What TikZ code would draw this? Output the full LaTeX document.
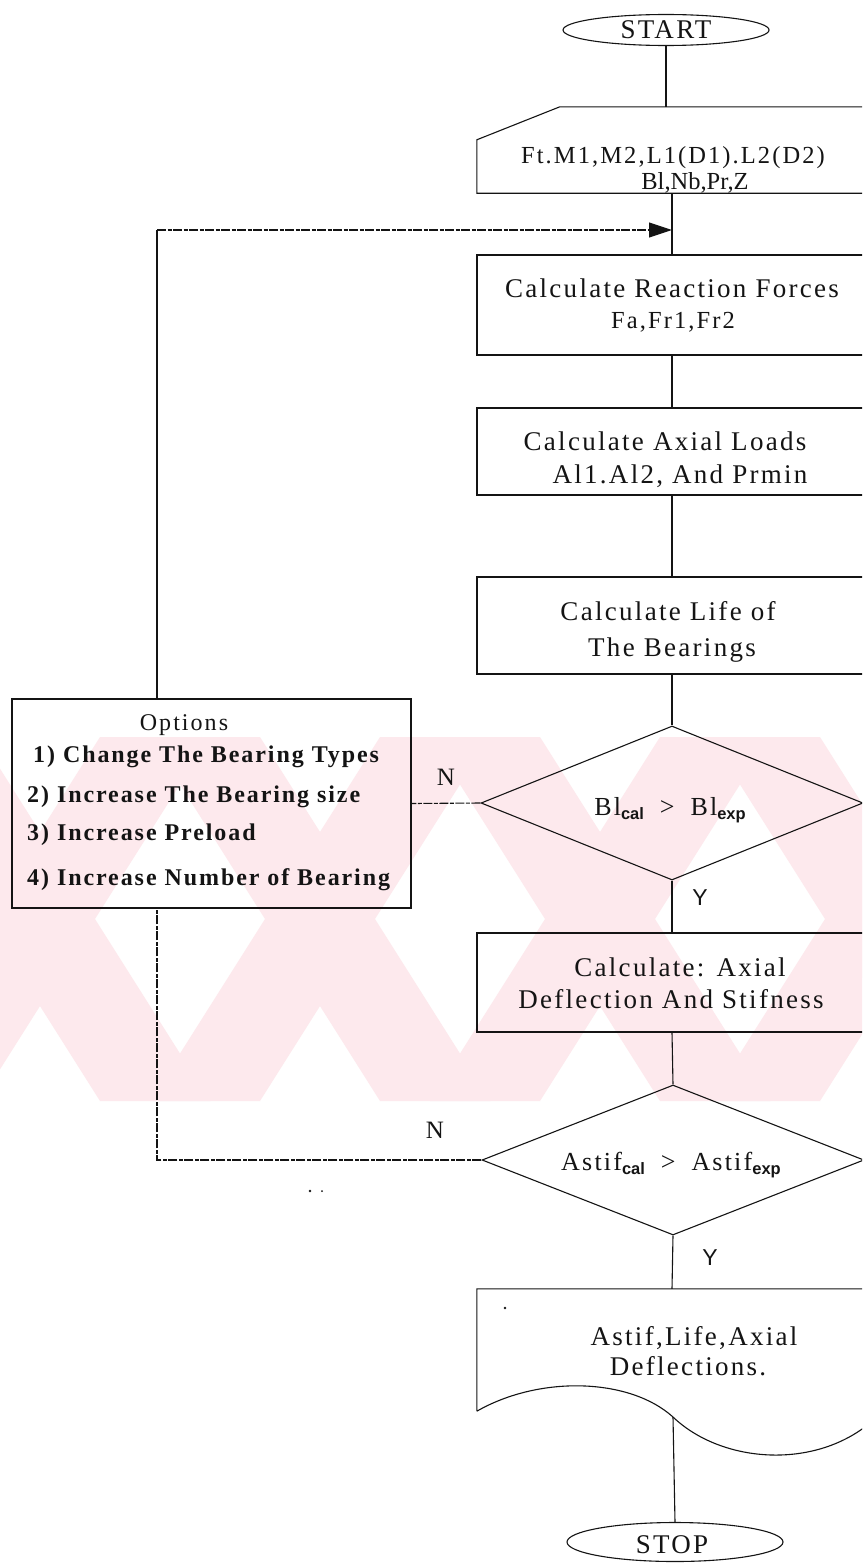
\documentclass[tikz,border=0pt]{standalone}
\usepackage{fontspec}
\setmainfont{Liberation Serif}
\newfontfamily\spc[LetterSpace=8.5]{Liberation Serif}
\newfontfamily\spcb[LetterSpace=8]{Liberation Serif}
\newfontfamily\sansf{Liberation Sans}
\usetikzlibrary{shapes.geometric,arrows.meta,calc}
\definecolor{wm}{RGB}{253,233,237}
\definecolor{ink}{RGB}{20,20,20}

% one pink diagonal band of the background emblem: top-left x, width, horizontal run
\newcommand{\wmstripe}[3]{%
  \fill[wm] (#1,737) -- ({#1+#2},737) -- ({#1+#2+#3},1101) -- ({#1+#3},1101) -- cycle;}
% subscript set in the sans face
\newcommand{\sub}[1]{{\sansf\bfseries\fontsize{16.5}{16.5}\selectfont\raisebox{-4.5pt}{#1}}}

\begin{document}
\begin{tikzpicture}[x=1pt,y=-1pt,
  ln/.style={line width=1.1pt,draw=ink},
  scan/.style={ln,dash pattern=on 9pt off 1.5pt on 4pt off 1.5pt},
  blk/.style={rectangle,minimum width=390pt,inner sep=0pt},
  txt/.style={font=\spc\fontsize{27}{32}\selectfont,inner sep=0pt,anchor=base,text=ink},
  opt/.style={font=\spcb\bfseries\fontsize{24}{26}\selectfont,inner sep=0pt,anchor=base west,text=ink},
  lbl/.style={font=\fontsize{25}{25}\selectfont,inner sep=0pt,anchor=base,text=ink},
  ylbl/.style={font=\sansf\fontsize{23}{23}\selectfont,inner sep=0pt,anchor=base,text=ink},
  term/.style={ellipse,ln,inner sep=0pt},
  dec/.style={diamond,ln,inner sep=0pt,minimum width=382pt,minimum height=154pt},
  tip/.style={-{Triangle[length=23pt,width=15pt]}}]

\useasboundingbox (0,0) rectangle (862,1563);
\fill[white] (0,0) rectangle (862,1563);
\clip (0,0) rectangle (862,1563);

% background emblem band
\begin{scope}
  \clip (0,737) rectangle (862,1101);
  \foreach \c in {40,320,600,880}{
    \wmstripe{\c-170}{110}{230}
    \wmstripe{\c+60}{110}{-230}
  }
\end{scope}

% terminals
\node[term,minimum width=206pt,minimum height=31pt] (start) at (666,30) {};
\node[txt,font=\spc\fontsize{27}{27}\selectfont] (starttext) at (666,39) {START};
\node[term,minimum width=216pt,minimum height=39pt] (stop) at (675,1542) {};
\node[txt,font=\spc\fontsize{27}{27}\selectfont] (stoptext) at (672,1553) {STOP};

% input card with its clipped corner
\node[blk,minimum height=86pt] (input) at (672,150) {};
\draw[ln] ($(input.north west)+(83,0)$) -- (input.north east) -- (input.south east)
  -- (input.south west) -- ($(input.north west)+(0,33)$) -- cycle;
\node[txt,font=\spc\fontsize{24.5}{27}\selectfont] (in1) at (673,163) {Ft.M1,M2,L1(D1).L2(D2)};
\node[txt,font=\rmfamily\fontsize{24.5}{27}\selectfont] (in2) at (695,189) {Bl,Nb,Pr,Z};

% process boxes
\node[blk,ln,minimum height=100pt] (react) at (672,305) {};
\node[txt] (re1) at (672,297) {Calculate Reaction Forces};
\node[txt,font=\spc\fontsize{24.5}{30}\selectfont] (re2) at (673,328) {Fa,Fr1,Fr2};
\node[blk,ln,minimum height=87pt] (axial) at (672,451.5) {};
\node[txt] (ax1) at (665,450) {Calculate Axial Loads};
\node[txt] (ax2) at (680,483) {Al1.Al2, And Prmin};
\node[blk,ln,minimum height=97pt] (life) at (672,625.5) {};
\node[txt] (li1) at (668,620) {Calculate Life of};
\node[txt] (li2) at (672,656) {The Bearings};
\node[blk,ln,minimum height=99pt] (defl) at (672,982.5) {};
\node[txt] (de1) at (680,976) {Calculate: Axial};
\node[txt] (de2) at (671,1008) {Deflection And Stifness};

% decisions
\node[dec] (d1) at (672,803) {};
\node[txt,font=\spc\fontsize{26}{26}\selectfont] (d1text) at (670,815) {Bl\sub{cal} \;>\; Bl\sub{exp}};
\node[dec,minimum height=150pt] (d2) at (673,1160) {};
\node[txt,font=\spc\fontsize{26}{26}\selectfont] (d2text) at (671,1170) {Astif\sub{cal} \;>\; Astif\sub{exp}};

% output document
\node[blk,minimum height=122pt] (out) at (672,1350) {};
\coordinate (wave) at (673,1417);
\draw[ln] (out.south west) -- (out.north west) -- (out.north east)
  -- ($(out.south east)+(0,14)$)
  .. controls (810,1470) and (720,1462) .. (wave)
  .. controls (630,1378) and (540,1375) .. (out.south west);
\node[txt] (ou1) at (694,1345) {Astif,Life,Axial};
\node[txt] (ou2) at (688,1375) {Deflections.};

% options box
\node[rectangle,ln,minimum width=399pt,minimum height=209pt,inner sep=0pt] (options) at (211.5,803.5) {};
\node[txt,font=\spc\fontsize{24}{24}\selectfont] (opt0) at (184,730) {Options};
\node[opt] (opt1) at (33,762) {1) Change The Bearing Types};
\node[opt] (opt2) at (27,802) {2) Increase The Bearing size};
\node[opt] (opt3) at (27,840) {3) Increase Preload};
\node[opt] (opt4) at (27,885) {4) Increase Number of Bearing};

% main flow
\draw[ln] (start.south) -- (start.south |- input.north);
\draw[ln] (input.south) -- (react.north);
\draw[ln] (react.south) -- (axial.north);
\draw[ln] (axial.south) -- (life.north);
\draw[ln] (life.south) -- (d1.north);
\draw[ln] (d1.south) -- (defl.north);
\draw[ln] (defl.south) -- (d2.north);
\draw[ln] (d2.south) -- (out.north);
\draw[ln] (wave) -- (stop.north);

% branch labels
\node[ylbl] (y1) at (700,905) {Y};
\node[ylbl] (y2) at (710,1265) {Y};
\node[lbl] (n1) at (446,785) {N};
\node[lbl] (n2) at (435,1138) {N};

% rework loop
\coordinate (loopx) at (157,230);
\draw[scan] (d1.west) -- (options.east);
\draw[scan] (d2.west) -- (d2.west -| loopx) -- (options.south -| loopx);
\draw[ln] (options.north -| loopx) -- (loopx);
\draw[scan,tip] (loopx) -- (loopx -| input.south);

% specks
\fill[ink] (310,1191) circle (1.3);
\fill[ink] (322,1191) circle (1);
\fill[ink] (505,1308) circle (1.3);
\end{tikzpicture}
\end{document}
